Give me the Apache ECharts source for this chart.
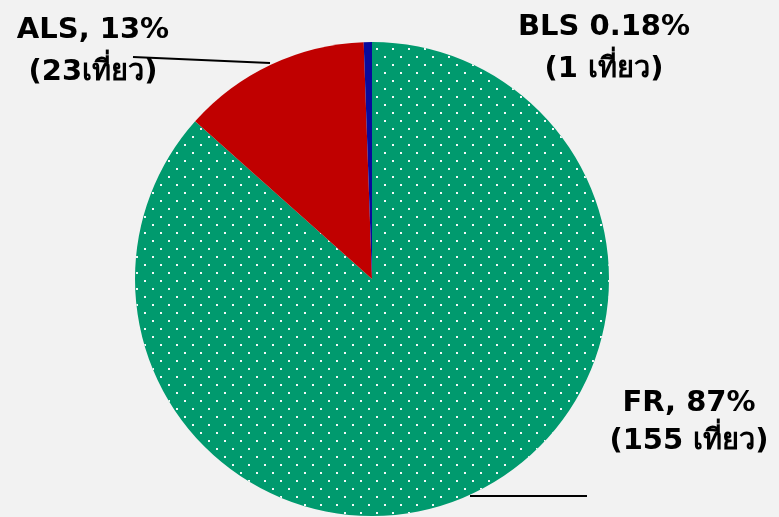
<!DOCTYPE html>
<html>
<head>
    <meta charset="utf-8">
    <title>pie</title>
    <script src="https://cdn.jsdelivr.net/npm/echarts@6/dist/echarts.min.js"></script>
    <style>
        html, body { margin: 0; padding: 0; background: #f2f2f2; }
        #main { width: 779px; height: 517px; }
    </style>
</head>
<body>
<div id="main"></div>
<script>
    // data, clockwise from 12 o'clock
    var names = ['FR', 'ALS', 'BLS'];
    var trips = [155, 23, 1];
    var labelTexts = ['FR, 87%\n(155 เที่ยว)', 'ALS, 13%\n(23เที่ยว)', 'BLS 0.18%\n(1 เที่ยว)'];
    var colors = ['#009a6e', '#c00000', '#0a0a9c'];

    // label placement, same order as names
    var labelPos = [
        { x: 689, y: 422, lh: 38, line: [[470, 496], [587, 496]] },
        { x: 93, y: 51, lh: 42, line: [[270, 63], [133, 57]] },
        { x: 604, y: 48, lh: 42, line: null }
    ];

    var dots = {
        symbol: 'rect',
        symbolSize: 1,
        color: 'rgba(255,255,255,0.95)',
        dashArrayX: [[2, 14], [0, 8, 2, 6]],
        dashArrayY: [2, 6],
        rotation: 0
    };

    var seriesData = names.map(function (n, i) {
        var item = {
            name: n,
            value: trips[i],
            itemStyle: { color: colors[i] },
            label: { lineHeight: labelPos[i].lh }
        };
        if (i === 0) item.itemStyle.decal = dots;
        return item;
    });

    var chart = echarts.init(document.getElementById('main'));
    chart.setOption({
        backgroundColor: '#f2f2f2',
        animation: false,
        series: [{
            type: 'pie',
            center: [372, 279],
            radius: 237,
            startAngle: 90,
            clockwise: true,
            avoidLabelOverlap: false,
            data: seriesData,
            itemStyle: { borderWidth: 0 },
            label: {
                show: true,
                formatter: function (p) { return labelTexts[p.dataIndex]; },
                fontFamily: 'Tahoma, "DejaVu Sans", sans-serif',
                fontWeight: 'bold',
                fontSize: 29,
                color: '#000',
                align: 'center'
            },
            labelLine: {
                show: true,
                lineStyle: { color: '#000', width: 2 }
            },
            labelLayout: function (p) {
                var pos = labelPos[p.dataIndex];
                var out = { x: pos.x, y: pos.y, align: 'center', verticalAlign: 'middle' };
                out.labelLinePoints = pos.line ? pos.line : [[0, 0], [0, 0]];
                return out;
            }
        }]
    });
</script>
</body>
</html>
